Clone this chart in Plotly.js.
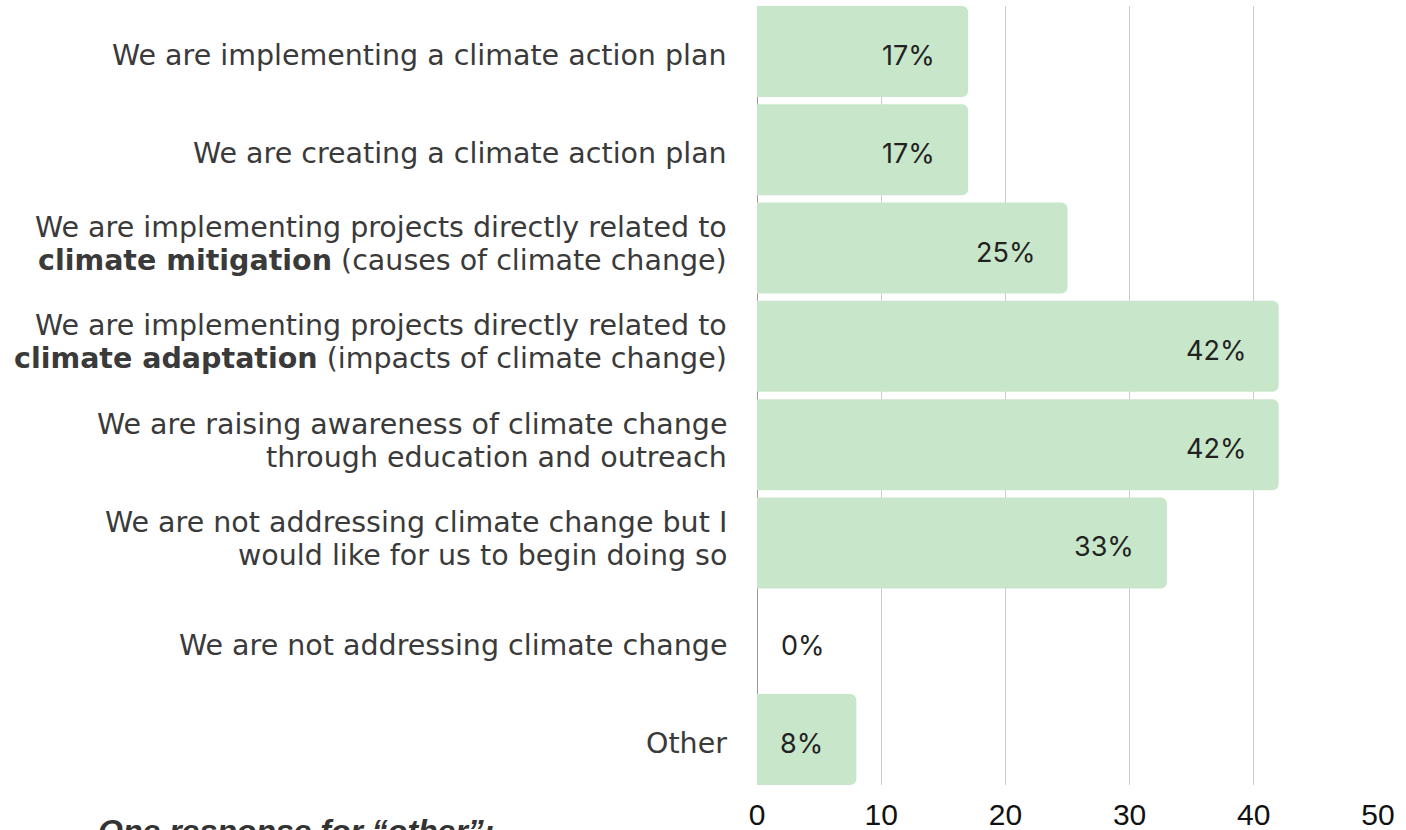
<!DOCTYPE html>
<html>
<head>
<meta charset="utf-8">
<script src="https://cdn.plot.ly/plotly-3.0.1.min.js"></script>
<style>html,body{margin:0;padding:0;background:#fff;overflow:hidden}#chart{width:1406px;height:830px}</style>
</head>
<body>
<div id="chart"></div>
<script>
var categories = [
  "We are implementing a climate action plan",
  "We are creating a climate action plan",
  "We are implementing projects directly related to<br><b>climate mitigation</b> (causes of climate change)",
  "We are implementing projects directly related to<br><b>climate adaptation</b> (impacts of climate change)",
  "We are raising awareness of climate change<br>through education and outreach",
  "We are not addressing climate change but I<br>would like for us to begin doing so",
  "We are not addressing climate change",
  "Other"
];
var values = [17, 17, 25, 42, 42, 33, 0, 8];
var valueLabels = ["17%", "17%", "25%", "42%", "42%", "33%", "0%", "8%"];
var xTicks = [0, 10, 20, 30, 40, 50];
var footnote = "One response for \u201cother\u201d:";

var labelFont = {family: '"DejaVu Sans", sans-serif', size: 28.5, color: '#3a3a3a'};
var ann = [];

// category labels, one annotation per line so the line spacing is tight
categories.forEach(function (c, i) {
  var lines = c.split('<br>');
  var n = lines.length;
  lines.forEach(function (line, k) {
    ann.push({
      xref: 'paper', yref: 'y', x: 0, y: c,
      text: line, showarrow: false, xanchor: 'right', yanchor: 'middle',
      xshift: -28,
      yshift: -(k - (n - 1) / 2) * 33 + (n === 1 ? -4 : 4),
      font: labelFont
    });
  });
});

// value labels
values.forEach(function (v, i) {
  var zero = v === 0;
  ann.push({
    x: v, y: categories[i], xref: 'x', yref: 'y',
    text: valueLabels[i], showarrow: false,
    xanchor: zero ? 'left' : 'right',
    xshift: zero ? 22 : -31, yshift: -4,
    font: {family: 'Inter, "Noto Sans", sans-serif', size: 27, color: '#222'}
  });
});

ann.push({
  xref: 'paper', yref: 'paper', x: -1.064, y: -0.059,
  xanchor: 'left', yanchor: 'middle', showarrow: false,
  text: '<b><i>' + footnote + '</i></b>',
  font: {family: '"Liberation Sans", Arial, sans-serif', size: 32, color: '#333'}
});

var trace = {
  type: 'bar', orientation: 'h',
  x: values, y: categories,
  marker: {color: '#c8e6c9', cornerradius: 6},
  hoverinfo: 'none'
};

var bargap = 0.074;
var half = (1 - bargap) / 2;

var layout = {
  width: 1406, height: 830,
  margin: {l: 757, r: 28, t: 6, b: 45, pad: 0},
  paper_bgcolor: '#fff', plot_bgcolor: '#fff',
  bargap: bargap,
  showlegend: false,
  xaxis: {
    range: [0, 50], tickvals: xTicks, ticktext: xTicks.map(String),
    showgrid: true, gridcolor: '#cccccc', gridwidth: 1,
    zeroline: true, zerolinecolor: '#999999', zerolinewidth: 1,
    showline: false, ticks: 'outside', ticklen: 3, tickcolor: 'rgba(0,0,0,0)',
    fixedrange: true,
    tickfont: {family: '"Liberation Sans", Arial, sans-serif', size: 30, color: '#111'}
  },
  yaxis: {
    type: 'category', autorange: false,
    range: [categories.length - 1 + half, -half],
    showgrid: false, zeroline: false, showline: false,
    showticklabels: false, ticks: ''
  },
  annotations: ann
};

Plotly.newPlot('chart', [trace], layout, {displayModeBar: false, staticPlot: true});
</script>
</body>
</html>
